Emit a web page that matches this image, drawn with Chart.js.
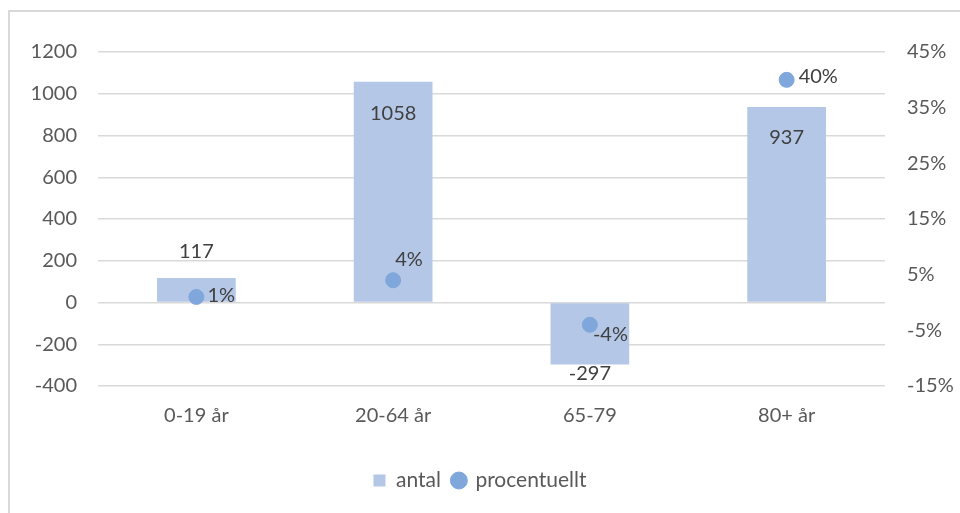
<!DOCTYPE html>
<html>
<head>
<meta charset="utf-8">
<script src="https://cdn.jsdelivr.net/npm/chart.js@4.4.1/dist/chart.umd.min.js"></script>
<style>
  html, body { margin: 0; padding: 0; background: #fff; }
  #wrap { position: relative; width: 960px; height: 513px; overflow: hidden; }
  #frame { position: absolute; left: 8px; top: 10px; width: 960px; height: 520px;
           border-left: 2px solid #d9d9d9; border-top: 2px solid #d9d9d9; }
  canvas { position: absolute; left: 0; top: 0; }
</style>
</head>
<body>
<div id="wrap">
  <div id="frame"></div>
  <canvas id="c" width="960" height="513"></canvas>
</div>
<script>
const categories = ['0-19 år', '20-64 år', '65-79', '80+ år'];
const antal = [117, 1058, -297, 937];
const procentuellt = [1, 4, -4, 40];
const leftTicks = [-400, -200, 0, 200, 400, 600, 800, 1000, 1200];
const rightTicks = [-15, -5, 5, 15, 25, 35, 45];

const FONT = 'Lato, "Open Sans", sans-serif';

const labelPlugin = {
  id: 'labels',
  afterDatasetsDraw(chart) {
    const ctx = chart.ctx;
    ctx.save();
    ctx.font = '20px ' + FONT;
    ctx.fillStyle = '#404040';
    const barMeta = chart.getDatasetMeta(0);
    const barOffsets = [-27, 32, 9, 31];
    barMeta.data.forEach((el, i) => {
      ctx.textAlign = 'center';
      ctx.textBaseline = 'middle';
      ctx.fillText(String(antal[i]), el.x, el.y + barOffsets[i]);
    });
    const ptMeta = chart.getDatasetMeta(1);
    const ptOffsets = [[11, -1], [2, -21], [3, 10], [12, -3]];
    ptMeta.data.forEach((el, i) => {
      ctx.textAlign = 'left';
      ctx.textBaseline = 'middle';
      ctx.fillText(procentuellt[i] + '%', el.x + ptOffsets[i][0], el.y + ptOffsets[i][1]);
    });
    ctx.restore();
  }
};

new Chart(document.getElementById('c'), {
  data: {
    labels: categories,
    datasets: [
      {
        type: 'bar',
        label: 'antal',
        data: antal,
        backgroundColor: '#b4c7e7',
        borderWidth: 0,
        yAxisID: 'y',
        categoryPercentage: 0.4,
        barPercentage: 1,
        pointStyle: 'rect',
        order: 2
      },
      {
        type: 'line',
        label: 'procentuellt',
        data: procentuellt,
        showLine: false,
        backgroundColor: '#7fa7db',
        borderColor: '#7fa7db',
        pointRadius: 7.5,
        pointHoverRadius: 7.5,
        pointStyle: 'circle',
        yAxisID: 'y2',
        order: 1
      }
    ]
  },
  options: {
    responsive: false,
    animation: false,
    events: [],
    layout: { padding: { top: 52, left: 0, right: 0, bottom: 12 } },
    plugins: {
      tooltip: { enabled: false },
      legend: {
        position: 'bottom',
        labels: {
          usePointStyle: true,
          boxWidth: 12,
          boxHeight: 12,
          padding: 12,
          color: '#595959',
          font: { family: FONT, size: 21 },
          sort: (a, b) => a.datasetIndex - b.datasetIndex
        }
      }
    },
    scales: {
      x: {
        grid: { display: false },
        border: { display: false },
        ticks: { color: '#595959', font: { family: FONT, size: 20 }, padding: 10 },
        afterFit(s) { s.height = 72; }
      },
      y: {
        position: 'left',
        min: -400, max: 1200,
        afterBuildTicks(s) { s.ticks = leftTicks.map(v => ({ value: v })); },
        grid: { color: '#d9d9d9', lineWidth: 1.5, drawTicks: false },
        border: { display: false },
        ticks: { color: '#595959', font: { family: FONT, size: 20 }, padding: 21,
                 callback: v => String(v) },
        afterFit(s) { s.width = 98; }
      },
      y2: {
        position: 'right',
        min: -15, max: 45,
        afterBuildTicks(s) { s.ticks = rightTicks.map(v => ({ value: v })); },
        grid: { display: false, drawTicks: false },
        border: { display: false },
        ticks: { color: '#595959', font: { family: FONT, size: 20 }, padding: 22,
                 callback: v => v + '%' },
        afterFit(s) { s.width = 75; }
      }
    }
  },
  plugins: [labelPlugin]
});
</script>
</body>
</html>
